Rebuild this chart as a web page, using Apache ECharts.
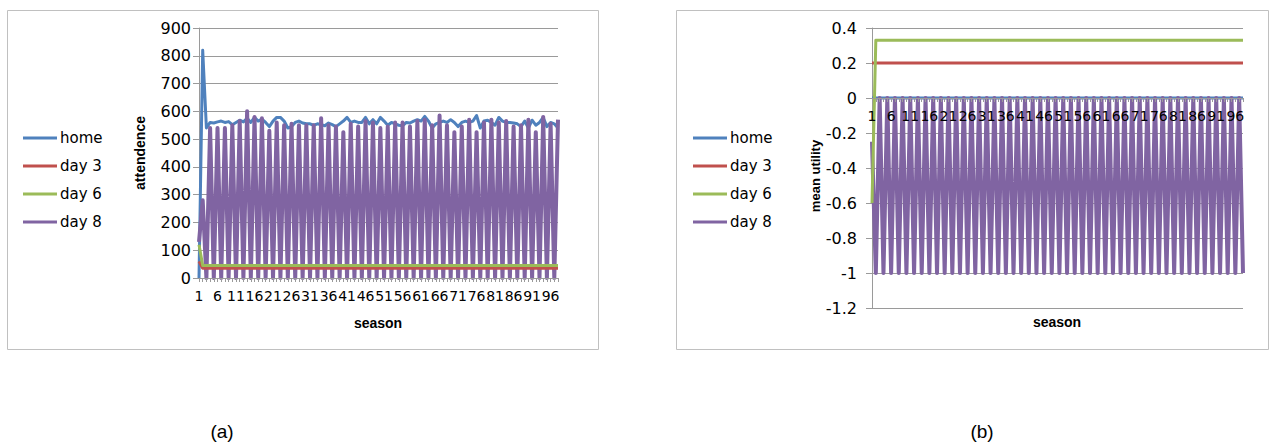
<!DOCTYPE html>
<html>
<head>
<meta charset="utf-8">
<script src="https://cdn.jsdelivr.net/npm/echarts@6/dist/echarts.min.js"></script>
<style>
html,body{margin:0;padding:0;background:#fff;}
#chart{width:1275px;height:442px;}
</style>
</head>
<body>
<div id="chart"></div>
<script>
// ---- categories ----
const seasons = [1,2,3,4,5,6,7,8,9,10,11,12,13,14,15,16,17,18,19,20,21,22,23,24,25,26,27,28,29,30,31,32,33,34,35,36,37,38,39,40,41,42,43,44,45,46,47,48,49,50,51,52,53,54,55,56,57,58,59,60,61,62,63,64,65,66,67,68,69,70,71,72,73,74,75,76,77,78,79,80,81,82,83,84,85,86,87,88,89,90,91,92,93,94,95,96,97,98];
const legendNames = ['home','day 3','day 6','day 8'];

// ---- panel (a): attendence ----
const homeA = [0,820,540,560,558,562,565,560,563,552,560,568,562,575,560,578,565,572,560,545,565,578,578,565,540,545,560,565,558,555,555,550,555,552,548,558,552,545,555,565,578,560,565,560,560,578,555,570,555,578,565,550,560,555,550,548,560,558,565,570,565,582,565,540,555,560,565,560,570,560,545,560,565,560,565,585,540,565,568,560,550,578,565,560,560,558,555,545,565,540,568,550,560,578,545,560,555,540];
const day3A = [60,35,35,35,35,35,35,35,35,35,35,35,35,35,35,35,35,35,35,35,35,35,35,35,35,35,35,35,35,35,35,35,35,35,35,35,35,35,35,35,35,35,35,35,35,35,35,35,35,35,35,35,35,35,35,35,35,35,35,35,35,35,35,35,35,35,35,35,35,35,35,35,35,35,35,35,35,35,35,35,35,35,35,35,35,35,35,35,35,35,35,35,35,35,35,35,35,35];
const day6A = [120,45,45,45,45,45,45,45,45,45,45,45,45,45,45,45,45,45,45,45,45,45,45,45,45,45,45,45,45,45,45,45,45,45,45,45,45,45,45,45,45,45,45,45,45,45,45,45,45,45,45,45,45,45,45,45,45,45,45,45,45,45,45,45,45,45,45,45,45,45,45,45,45,45,45,45,45,45,45,45,45,45,45,45,45,45,45,45,45,45,45,45,45,45,45,45,45,45];
const day8A = [130,280,0,540,0,540,0,540,0,550,0,565,0,600,0,580,0,575,0,530,0,560,0,550,0,555,0,550,0,550,0,550,0,575,0,550,0,545,0,525,0,555,0,545,0,565,0,560,0,540,0,545,0,560,0,560,0,545,0,565,0,570,0,550,0,585,0,550,0,525,0,545,0,570,0,525,0,560,0,570,0,560,0,565,0,545,0,550,0,570,0,525,0,580,0,555,0,570];

// ---- panel (b): mean utility ----
const homeB = [0,0,0,0,0,0,0,0,0,0,0,0,0,0,0,0,0,0,0,0,0,0,0,0,0,0,0,0,0,0,0,0,0,0,0,0,0,0,0,0,0,0,0,0,0,0,0,0,0,0,0,0,0,0,0,0,0,0,0,0,0,0,0,0,0,0,0,0,0,0,0,0,0,0,0,0,0,0,0,0,0,0,0,0,0,0,0,0,0,0,0,0,0,0,0,0,0,0];
const day3B = [0.2,0.2,0.2,0.2,0.2,0.2,0.2,0.2,0.2,0.2,0.2,0.2,0.2,0.2,0.2,0.2,0.2,0.2,0.2,0.2,0.2,0.2,0.2,0.2,0.2,0.2,0.2,0.2,0.2,0.2,0.2,0.2,0.2,0.2,0.2,0.2,0.2,0.2,0.2,0.2,0.2,0.2,0.2,0.2,0.2,0.2,0.2,0.2,0.2,0.2,0.2,0.2,0.2,0.2,0.2,0.2,0.2,0.2,0.2,0.2,0.2,0.2,0.2,0.2,0.2,0.2,0.2,0.2,0.2,0.2,0.2,0.2,0.2,0.2,0.2,0.2,0.2,0.2,0.2,0.2,0.2,0.2,0.2,0.2,0.2,0.2,0.2,0.2,0.2,0.2,0.2,0.2,0.2,0.2,0.2,0.2,0.2,0.2];
const day6B = [-0.6,0.33,0.33,0.33,0.33,0.33,0.33,0.33,0.33,0.33,0.33,0.33,0.33,0.33,0.33,0.33,0.33,0.33,0.33,0.33,0.33,0.33,0.33,0.33,0.33,0.33,0.33,0.33,0.33,0.33,0.33,0.33,0.33,0.33,0.33,0.33,0.33,0.33,0.33,0.33,0.33,0.33,0.33,0.33,0.33,0.33,0.33,0.33,0.33,0.33,0.33,0.33,0.33,0.33,0.33,0.33,0.33,0.33,0.33,0.33,0.33,0.33,0.33,0.33,0.33,0.33,0.33,0.33,0.33,0.33,0.33,0.33,0.33,0.33,0.33,0.33,0.33,0.33,0.33,0.33,0.33,0.33,0.33,0.33,0.33,0.33,0.33,0.33,0.33,0.33,0.33,0.33,0.33,0.33,0.33,0.33,0.33,0.33];
const day8B = [-0.25,-1,0,-1,0,-1,0,-1,0,-1,0,-1,0,-1,0,-1,0,-1,0,-1,0,-1,0,-1,0,-1,0,-1,0,-1,0,-1,0,-1,0,-1,0,-1,0,-1,0,-1,0,-1,0,-1,0,-1,0,-1,0,-1,0,-1,0,-1,0,-1,0,-1,0,-1,0,-1,0,-1,0,-1,0,-1,0,-1,0,-1,0,-1,0,-1,0,-1,0,-1,0,-1,0,-1,0,-1,0,-1,0,-1,0,-1,0,-1,0,-1];

// ---- axis ticks ----
const yTicksA = {min:0, max:900, interval:100};
const yTicksB = {min:-1.2, max:0.4, interval:0.2};

const COLORS = {home:'#4F81BD', 'day 3':'#C0504D', 'day 6':'#9BBB59', 'day 8':'#8064A2'};
const GRID_GRAY = '#9a9a9a';
const FONT = 'DejaVu Sans';

const chart = echarts.init(document.getElementById('chart'), null, {renderer:'svg'});

function xAxisCfg(gi, offset){
  return {
    gridIndex: gi, type:'category', data: seasons, boundaryGap:false, z: 10,
    position:'bottom', offset: offset,
    axisLine:{show:true, onZero:false, lineStyle:{color:GRID_GRAY, width:1}},
    axisTick:{show:true, interval:0, length:4, lineStyle:{color:GRID_GRAY}},
    axisLabel:{interval:4, margin:11, fontSize:14, color:'#000', fontFamily:FONT, hideOverlap:false}
  };
}
function yAxisCfg(gi, t, margin, fmt){
  return {
    gridIndex: gi, type:'value', min:t.min, max:t.max, interval:t.interval,
    axisLine:{show:true, lineStyle:{color:GRID_GRAY}},
    axisTick:{show:true, length:6, lineStyle:{color:GRID_GRAY}},
    splitLine:{show:true, lineStyle:{color:GRID_GRAY, width:1}},
    axisLabel:{margin:margin, fontSize:16, color:'#000', fontFamily:FONT, formatter:fmt}
  };
}
function line(name, data, gi, w){
  return {name:name, type:'line', data:data, xAxisIndex:gi, yAxisIndex:gi,
    symbol:'none', showSymbol:false, color:COLORS[name],
    lineStyle:{width:w || 3, color:COLORS[name], join:'round'}, emphasis:{disabled:true}};
}
function legendCfg(left){
  return {left:left, top:130, orient:'vertical', padding:0, icon:'rect',
    itemWidth:34, itemHeight:3, itemGap:12, data:legendNames, selectedMode:false,
    textStyle:{fontSize:15, color:'#000', fontFamily:FONT, lineHeight:16, padding:[0,0,0,-2]}};
}

const option = {
  animation:false,
  backgroundColor:'#fff',
  legend:[legendCfg(23), legendCfg(693)],
  grid:[
    {left:199, top:28, width:359, height:250},
    {left:872, top:28, width:371, height:280}
  ],
  xAxis:[xAxisCfg(0, 0), xAxisCfg(1, -210)],
  yAxis:[
    yAxisCfg(0, yTicksA, 8, v => String(v)),
    yAxisCfg(1, yTicksB, 15, v => String(Math.round(v*10)/10))
  ],
  series:[
    line('home', homeA, 0), line('day 8', day8A, 0, 4), line('day 3', day3A, 0), line('day 6', day6A, 0),
    line('home', homeB, 1), line('day 8', day8B, 1, 4), line('day 3', day3B, 1), line('day 6', day6B, 1)
  ],
  graphic:[
    {type:'rect', shape:{x:7.5, y:10.5, width:591, height:339}, style:{fill:'none', stroke:'#c0c0c0', lineWidth:1}, silent:true, z:-10},
    {type:'rect', shape:{x:676.5, y:10.5, width:592, height:339}, style:{fill:'none', stroke:'#c0c0c0', lineWidth:1}, silent:true, z:-10},
    {type:'text', x:140, y:153, rotation:Math.PI/2, style:{text:'attendence', font:'bold 14px "Liberation Sans"', fill:'#000', align:'center', verticalAlign:'middle'}},
    {type:'text', x:815, y:176, rotation:Math.PI/2, style:{text:'mean utility', font:'bold 13px "Liberation Sans"', fill:'#000', align:'center', verticalAlign:'middle'}},
    {type:'text', x:378, y:323, style:{text:'season', font:'bold 14px "Liberation Sans"', fill:'#000', align:'center', verticalAlign:'middle'}},
    {type:'text', x:1057, y:322, style:{text:'season', font:'bold 14px "Liberation Sans"', fill:'#000', align:'center', verticalAlign:'middle'}},
    {type:'text', x:222, y:431, style:{text:'(a)', font:'19px "Liberation Sans"', fill:'#000', align:'center', verticalAlign:'middle'}},
    {type:'text', x:982, y:431, style:{text:'(b)', font:'19px "Liberation Sans"', fill:'#000', align:'center', verticalAlign:'middle'}}
  ]
};
chart.setOption(option);
</script>
</body>
</html>
